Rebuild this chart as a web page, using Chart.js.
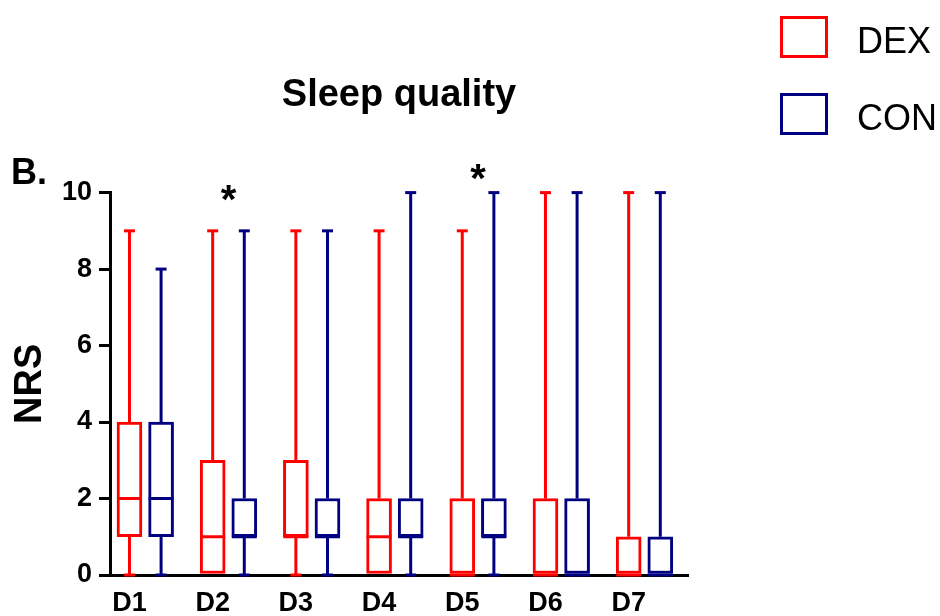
<!DOCTYPE html>
<html>
<head>
<meta charset="utf-8">
<script src="https://cdn.jsdelivr.net/npm/chart.js@4.4.1/dist/chart.umd.min.js"></script>
<style>
  html, body { margin: 0; padding: 0; background: #fff; }
  #wrap { position: relative; width: 940px; height: 616px; font-family: 'Liberation Sans', Arial, sans-serif; }
  #chart { position: absolute; left: 0; top: 0; }
  #panel { position: absolute; left: 11px; top: 154px; font-size: 36px; line-height: 36px; font-weight: bold; color: #000; }
  #legend { position: absolute; left: 780px; top: 16px; }
  #legend .item { display: flex; align-items: center; height: 42px; margin-bottom: 35px; }
  #legend .box { width: 48px; height: 42px; box-sizing: border-box; border: 3px solid; background: #fff; margin-right: 29px; }
  #legend .txt { font-size: 36px; color: #000; position: relative; top: 4px; }
</style>
</head>
<body>
<div id="wrap">
  <canvas id="chart" width="940" height="616"></canvas>
  <div id="panel">B.</div>
  <div id="legend"></div>
</div>
<script>
// days on the x axis
const days = ['D1', 'D2', 'D3', 'D4', 'D5', 'D6', 'D7'];

// DEX group: min, quartiles, median, max
const dexMin    = [0, 0, 0, 0, 0, 0, 0];
const dexQ1     = [1, 0, 1, 0, 0, 0, 0];
const dexMedian = [2, 1, 1, 1, 0, 0, 0];
const dexQ3     = [4, 3, 3, 2, 2, 2, 1];
const dexMax    = [9, 9, 9, 9, 9, 10, 10];

// CON group
const conMin    = [0, 0, 0, 0, 0, 0, 0];
const conQ1     = [1, 1, 1, 1, 1, 0, 0];
const conMedian = [2, 1, 1, 1, 1, 0, 0];
const conQ3     = [4, 2, 2, 2, 2, 2, 1];
const conMax    = [8, 9, 9, 10, 10, 10, 10];

// significance marks
const sigDays   = ['D2', 'D5'];
const sigLevels = [10, 10.55];

const yTicks = [0, 2, 4, 6, 8, 10];

const RED = '#FF0000';
const NAVY = '#000080';
const FONT = "'Liberation Sans', Arial, sans-serif";
const conShift = 0.38;

function boxData(q1, q3, shift) {
  return days.map((d, i) => ({ x: i + 1 + shift, y: [q1[i], q3[i]] }));
}

const whiskers = {
  id: 'whiskers',
  afterDatasetsDraw(chart) {
    const ctx = chart.ctx;
    const ys = chart.scales.y;
    const seg = (x1, y1, x2, y2) => {
      ctx.beginPath();
      ctx.moveTo(x1, y1);
      ctx.lineTo(x2, y2);
      ctx.stroke();
    };
    chart.data.datasets.forEach((ds, di) => {
      const s = ds.stats;
      chart.getDatasetMeta(di).data.forEach((bar, i) => {
        const cx = bar.x;
        const half = bar.width / 2;
        ctx.save();
        ctx.strokeStyle = ds.borderColor;
        ctx.lineWidth = 3;
        if (s.max[i] > s.q3[i]) seg(cx, ys.getPixelForValue(s.q3[i]), cx, ys.getPixelForValue(s.max[i]));
        if (s.min[i] < s.q1[i]) seg(cx, ys.getPixelForValue(s.q1[i]), cx, ys.getPixelForValue(s.min[i]));
        if (s.max[i] > s.q3[i]) {
          const py = ys.getPixelForValue(s.max[i]);
          seg(cx - 5.5, py, cx + 5.5, py);
        }
        if (s.min[i] < s.q1[i]) {
          const py = ys.getPixelForValue(s.min[i]);
          seg(cx - 5.5, py, cx + 5.5, py);
        }
        const pm = ys.getPixelForValue(s.median[i]);
        seg(cx - half, pm, cx + half, pm);
        ctx.restore();
      });
    });
  }
};

const stars = {
  id: 'stars',
  afterDraw(chart) {
    const ctx = chart.ctx;
    const xs = chart.scales.x, ys = chart.scales.y;
    ctx.save();
    ctx.fillStyle = '#000';
    ctx.font = 'bold 40px ' + FONT;
    ctx.textAlign = 'center';
    ctx.textBaseline = 'alphabetic';
    sigDays.forEach((d, k) => {
      const px = xs.getPixelForValue(days.indexOf(d) + 1 + conShift / 2);
      const py = ys.getPixelForValue(sigLevels[k]);
      const m = ctx.measureText('*');
      ctx.fillText('*', px, py + (m.actualBoundingBoxAscent - m.actualBoundingBoxDescent) / 2);
    });
    ctx.restore();
  }
};

const htmlLegend = {
  id: 'htmlLegend',
  afterUpdate(chart) {
    const box = document.getElementById('legend');
    box.innerHTML = '';
    chart.data.datasets.forEach(ds => {
      const item = document.createElement('div');
      item.className = 'item';
      const sw = document.createElement('div');
      sw.className = 'box';
      sw.style.borderColor = ds.borderColor;
      const txt = document.createElement('span');
      txt.className = 'txt';
      txt.textContent = ds.label;
      item.appendChild(sw);
      item.appendChild(txt);
      box.appendChild(item);
    });
  }
};

new Chart(document.getElementById('chart'), {
  type: 'bar',
  data: {
    datasets: [{
      label: 'DEX',
      data: boxData(dexQ1, dexQ3, 0),
      stats: { min: dexMin, q1: dexQ1, median: dexMedian, q3: dexQ3, max: dexMax },
      backgroundColor: '#fff',
      borderColor: RED,
      borderWidth: 3,
      borderSkipped: false,
      grouped: false,
      barThickness: 25
    }, {
      label: 'CON',
      data: boxData(conQ1, conQ3, conShift),
      stats: { min: conMin, q1: conQ1, median: conMedian, q3: conQ3, max: conMax },
      backgroundColor: '#fff',
      borderColor: NAVY,
      borderWidth: 3,
      borderSkipped: false,
      grouped: false,
      barThickness: 25
    }]
  },
  options: {
    responsive: false,
    animation: false,
    devicePixelRatio: 1,
    layout: { padding: { left: 0, right: 252, top: 0, bottom: 0 } },
    plugins: {
      legend: { display: false },
      tooltip: { enabled: false },
      title: {
        display: true,
        text: 'Sleep quality',
        fullSize: false,
        color: '#000',
        font: { family: FONT, size: 38, weight: 'bold' },
        padding: { top: 73, bottom: 74 }
      }
    },
    scales: {
      x: {
        type: 'linear',
        min: 0.766,
        max: 7.713,
        offset: false,
        grid: { display: false, drawTicks: false },
        border: { display: true, color: '#000', width: 3 },
        afterBuildTicks: scale => { scale.ticks = days.map((d, i) => ({ value: i + 1 })); },
        afterFit: scale => { scale.height = 41; },
        ticks: {
          autoSkip: false,
          maxRotation: 0,
          padding: 12,
          color: '#000',
          font: { family: FONT, size: 27, weight: 'bold' },
          callback: v => days[v - 1]
        }
      },
      y: {
        min: 0,
        max: 10,
        afterBuildTicks: scale => { scale.ticks = yTicks.map(v => ({ value: v })); },
        afterFit: scale => { scale.width = 110; },
        grid: { drawOnChartArea: false, drawTicks: true, tickLength: 11, lineWidth: 3, color: '#000' },
        border: { display: true, color: '#000', width: 3 },
        ticks: {
          padding: 7,
          color: '#000',
          font: { family: FONT, size: 27, weight: 'bold' }
        },
        title: {
          display: true,
          text: 'NRS',
          color: '#000',
          font: { family: FONT, size: 38, weight: 'bold' },
          padding: { top: 8, bottom: 10 }
        }
      }
    }
  },
  plugins: [whiskers, stars, htmlLegend]
});
</script>
</body>
</html>
